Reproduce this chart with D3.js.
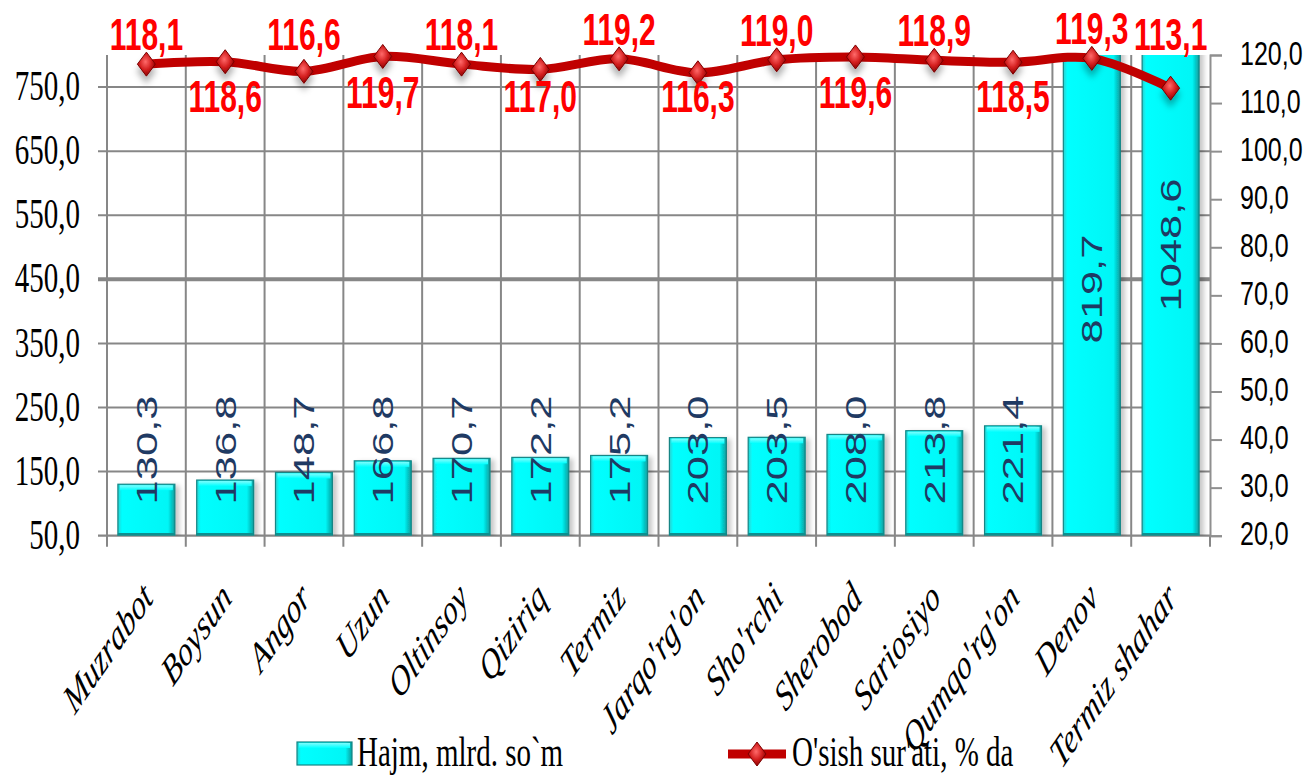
<!DOCTYPE html>
<html><head><meta charset="utf-8">
<script src="https://cdn.jsdelivr.net/npm/d3@7"></script>
<style>body{margin:0;background:#fff}svg{display:block}</style>
</head><body>
<svg id="c" width="1308" height="775"></svg>
<script>
const categories = ["Muzrabot","Boysun","Angor","Uzun","Oltinsoy","Qiziriq","Termiz","Jarqo'rg'on","Sho'rchi","Sherobod","Sariosiyo","Qumqo'rg'on","Denov","Termiz shahar"];
const volume = [130.3,136.8,148.7,166.8,170.7,172.2,175.2,203.0,203.5,208.0,213.8,221.4,819.7,1048.6];
const growth = [118.1,118.6,116.6,119.7,118.1,117.0,119.2,116.3,119.0,119.6,118.9,118.5,119.3,113.1];
const leftTicks = [50,150,250,350,450,550,650,750];
const rightTicks = [20,30,40,50,60,70,80,90,100,110,120];
const seriesNames = ["Hajm, mlrd. so`m","O'sish sur'ati, % da"];

const K = 1.45;           // vertical stretch of the picture
const W = 1308, H = 775;
const P = {left:107, right:1210, top:55, bottom:535.7};
const fmt = v => d3.format(".1f")(v).replace(".", ",");

const svg = d3.select("#c");
const defs = svg.append("defs");

const bg = defs.append("linearGradient").attr("id","barG").attr("x1","0").attr("x2","1").attr("y1","0").attr("y2","0");
[["0%","#2fcfcf"],["7%","#00ffff"],["88%","#00f6f6"],["100%","#0b9c9c"]].forEach(s=>bg.append("stop").attr("offset",s[0]).attr("stop-color",s[1]));
const bgt = defs.append("linearGradient").attr("id","barTop").attr("x1","0").attr("x2","0").attr("y1","0").attr("y2","1");
[["0%","#7ffcfc"],["100%","#00ffff"]].forEach(s=>bgt.append("stop").attr("offset",s[0]).attr("stop-color",s[1]));
const mg = defs.append("radialGradient").attr("id","mkG").attr("cx","45%").attr("cy","40%").attr("r","60%");
[["0%","#ff6a6a"],["55%","#d42020"],["100%","#8a0000"]].forEach(s=>mg.append("stop").attr("offset",s[0]).attr("stop-color",s[1]));
const sh = defs.append("filter").attr("id","shB").attr("x","-20%").attr("y","-5%").attr("width","150%").attr("height","115%");
sh.append("feDropShadow").attr("dx",4).attr("dy",2).attr("stdDeviation",2.5).attr("flood-color","#000").attr("flood-opacity",0.22);
const shm = defs.append("filter").attr("id","shM").attr("x","-60%").attr("y","-60%").attr("width","220%").attr("height","260%");
shm.append("feDropShadow").attr("dx",0).attr("dy",7).attr("stdDeviation",3).attr("flood-color","#000").attr("flood-opacity",0.3);
defs.append("clipPath").attr("id","plotClip").append("rect")
  .attr("x",P.left-10).attr("y",P.top).attr("width",P.right-P.left+20).attr("height",P.bottom-P.top);

const x = d3.scaleBand().domain(categories).range([P.left,P.right]).paddingInner(0.277).paddingOuter(0.1385);
const yL = d3.scaleLinear().domain([50,800]).range([P.bottom,P.top]);
const yR = d3.scaleLinear().domain([20,120]).range([P.bottom,P.top]);
const cx = c => x(c) + x.bandwidth()/2;
const gap = (x.step()-x.bandwidth())/2;
const bounds = categories.map(c => x(c)-gap).concat([x(categories[categories.length-1])+x.bandwidth()+gap]);

// gridlines
const grid = svg.append("g").attr("stroke","#878787");
grid.selectAll("line.h").data(leftTicks.filter(t=>t>50)).join("line")
  .attr("x1",P.left-9).attr("x2",P.right)
  .attr("y1",d=>yL(d)).attr("y2",d=>yL(d))
  .attr("stroke-width",d=>d===450?4:2);
grid.selectAll("line.v").data(bounds.slice(0,-1)).join("line")
  .attr("x1",d=>d).attr("x2",d=>d).attr("y1",P.top).attr("y2",P.bottom+11).attr("stroke-width",2);
grid.append("line").attr("x1",P.left-9).attr("x2",P.right).attr("y1",P.bottom).attr("y2",P.bottom).attr("stroke-width",2.2);
grid.append("line").attr("x1",P.right).attr("x2",P.right).attr("y1",P.bottom).attr("y2",P.bottom+11).attr("stroke-width",2);

// bars
const barsG = svg.append("g").attr("clip-path","url(#plotClip)");
const bars = barsG.selectAll("g.bar").data(categories.map((c,i)=>({c,v:volume[i]}))).join("g").attr("filter","url(#shB)");
bars.append("rect").attr("x",d=>x(d.c)).attr("width",x.bandwidth())
  .attr("y",d=>yL(d.v)).attr("height",d=>yL(50)-yL(d.v))
  .attr("fill","url(#barG)").attr("stroke","#138585").attr("stroke-width",1.2);
bars.append("rect").attr("x",d=>x(d.c)+2).attr("width",x.bandwidth()-4)
  .attr("y",d=>yL(d.v)+1).attr("height",5).attr("fill","url(#barTop)");
bars.append("line").attr("x1",d=>x(d.c)).attr("x2",d=>x(d.c)+x.bandwidth())
  .attr("y1",P.bottom-1.5).attr("y2",P.bottom-1.5).attr("stroke","#0f8f8f").attr("stroke-width",2.5);

// bar value labels
svg.append("g").selectAll("text").data(categories.map((c,i)=>({c,v:volume[i]}))).join("text")
  .attr("transform",d=>{
    const mid = Math.min(450, Math.max(245,(yL(d.v)+yL(50))/2));
    return `translate(${cx(d.c)},${mid}) scale(1,${K}) rotate(-90)`;})
  .attr("text-anchor","middle").attr("dominant-baseline","central")
  .attr("font-family","Liberation Sans, Arial, sans-serif").attr("font-size",30)
  .attr("fill","#1f3a63").text(d=>fmt(d.v));

// right axis
const ra = svg.append("g").attr("transform",`translate(${P.right},0)`)
  .call(d3.axisRight(yR).tickValues(rightTicks).tickSize(12).tickPadding(18).tickFormat(fmt));
ra.select(".domain").attr("stroke","#8f8f8f").attr("stroke-width",2);
ra.selectAll(".tick line").attr("stroke","#8f8f8f").attr("stroke-width",2);
ra.selectAll(".tick text").attr("font-family","Liberation Sans, Arial, sans-serif").attr("font-size",25)
  .attr("fill","#000").attr("transform",`scale(1,1.3)`).attr("dy","0.28em");

// left axis labels
const la = svg.append("g").attr("transform",`translate(${P.left},0)`)
  .call(d3.axisLeft(yL).tickValues(leftTicks).tickSize(9).tickPadding(18).tickFormat(fmt));
la.select(".domain").remove();
la.selectAll(".tick line").remove();
la.selectAll(".tick text").attr("font-family","Liberation Serif, Times New Roman, serif").attr("font-size",29)
  .attr("fill","#000").attr("transform",`scale(1,${K})`).attr("dy","0.3em");

// line
const pts = categories.map((c,i)=>[cx(c), yR(growth[i])]);
svg.append("path").attr("d", d3.line().curve(d3.curveCatmullRom.alpha(0.5))(pts))
  .attr("fill","none").attr("stroke","#c00000").attr("stroke-width",9).attr("stroke-linejoin","round");
const diamond = (w,h) => `M0,${-h}L${w},0L0,${h}L${-w},0Z`;
svg.append("g").selectAll("path").data(pts).join("path")
  .attr("transform",d=>`translate(${d[0]},${d[1]})`).attr("d",diamond(9,12))
  .attr("fill","url(#mkG)").attr("stroke","#7a0000").attr("stroke-width",1).attr("filter","url(#shM)");

// line labels: alternate above/below, last one above (as in the source)
const last = categories.length-1;
svg.append("g").selectAll("text").data(categories.map((c,i)=>({c,v:growth[i],i}))).join("text")
  .attr("transform",d=>{
    const above = d.i%2===0 || d.i===last;
    const base = above ? Math.min(50, yR(d.v)-14) : Math.max(108, Math.min(112, yR(d.v)+50));
    return `translate(${cx(d.c)},${base}) scale(1,${K})`;})
  .attr("text-anchor","middle").attr("font-family","Liberation Sans, Arial, sans-serif")
  .attr("font-weight","bold").attr("font-size",30).attr("fill","#ff0000").text(d=>fmt(d.v));

// category labels
svg.append("g").selectAll("text").data(categories).join("text")
  .attr("transform",d=>`translate(${cx(d)+8},600) scale(1,${K}) rotate(-45)`)
  .attr("text-anchor","end").attr("font-family","Liberation Serif, Times New Roman, serif")
  .attr("font-style","italic").attr("font-size",29).attr("fill","#000").text(d=>d);

// legend
const lg = svg.append("g");
lg.append("rect").attr("x",297).attr("y",742).attr("width",55).attr("height",23)
  .attr("fill","url(#barG)").attr("stroke","#138585").attr("stroke-width",1.2);
lg.append("rect").attr("x",299).attr("y",743).attr("width",51).attr("height",5).attr("fill","url(#barTop)");
lg.append("text").attr("transform",`translate(357,766) scale(1,${K})`)
  .attr("font-family","Liberation Serif, Times New Roman, serif").attr("font-size",29).text(seriesNames[0]);
lg.append("line").attr("x1",728).attr("x2",786).attr("y1",754).attr("y2",754).attr("stroke","#c00000").attr("stroke-width",9);
lg.append("path").attr("transform","translate(757,754)").attr("d",diamond(9,12))
  .attr("fill","url(#mkG)").attr("stroke","#7a0000").attr("stroke-width",1);
lg.append("text").attr("transform",`translate(792,766) scale(1,${K})`)
  .attr("font-family","Liberation Serif, Times New Roman, serif").attr("font-size",29).text(seriesNames[1]);
</script>
</body></html>
